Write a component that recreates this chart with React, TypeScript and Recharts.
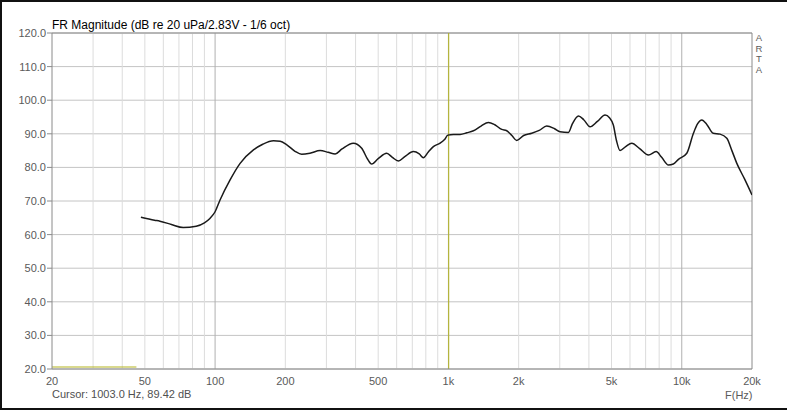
import {
  CartesianGrid,
  Line,
  LineChart,
  ReferenceLine,
  XAxis,
  YAxis,
} from 'recharts'

// frequency response, 1/6 oct smoothed
const freqHz = [
  48.1, 55, 58, 65, 73, 83, 90, 95, 100, 105, 115.8, 128, 146, 160, 178, 190,
  203, 220, 235, 255, 282, 305, 327, 350, 391, 425, 450, 469, 500, 544, 575,
  610, 650, 708, 750, 781, 820, 862, 921, 960, 995, 1050, 1122, 1200, 1280,
  1380, 1483, 1580, 1692, 1778, 1870, 1963, 2100, 2276, 2450, 2637, 2850,
  3010, 3268, 3400, 3607, 3800, 4046, 4350, 4692, 4900, 5091, 5250, 5441,
  5750, 6107, 6600, 7200, 7763, 8200, 8770, 9200, 9680, 10510, 11220, 11700,
  12190, 12800, 13640, 14590, 15600, 16400, 17220, 18600, 20000,
]
const magDb = [
  65.2, 64.3, 64.0, 63.0, 62.1, 62.5, 63.5, 64.8, 66.8, 70.3, 76.2, 81.2,
  85.2, 86.9, 87.95, 87.8, 86.7, 84.8, 83.9, 84.2, 85.0, 84.5, 84.0, 85.5,
  87.2, 85.7, 82.5, 81.0, 82.6, 84.2, 83.0, 81.9, 83.2, 84.7, 84.0, 82.9,
  84.6, 86.2, 87.2, 88.2, 89.6, 89.8, 89.8, 90.3, 90.9, 92.3, 93.4, 92.7,
  91.3, 90.9, 89.5, 88.0, 89.5, 90.15, 91.0, 92.3, 91.5, 90.6, 90.4, 93.0,
  95.3, 94.2, 92.1, 93.7, 95.6, 94.8, 92.6, 88.0, 85.0, 86.2, 87.2, 85.6,
  83.7, 84.7, 83.0, 80.7, 81.0, 82.4, 84.2, 90.15, 93.0, 94.1, 92.8, 90.15,
  89.9, 88.7, 85.0, 81.2, 76.5, 71.8,
]

// yellow marker segment at the bottom-left
const markerHz = [20, 46]
const markerDb = [20.6, 20.6]

const cursorHz = 1003
const xTicks = [20, 50, 100, 200, 500, 1000, 2000, 5000, 10000, 20000]
const yTicks = [20, 30, 40, 50, 60, 70, 80, 90, 100, 110, 120]
const gridHz = [
  30, 40, 50, 60, 70, 80, 90, 100, 200, 300, 400, 500, 600, 700, 800, 900,
  1000, 2000, 3000, 4000, 5000, 6000, 7000, 8000, 9000, 10000,
]
const decadeHz = [100, 1000, 10000]
const artaLetters = ['A', 'R', 'T', 'A']

const curve = freqHz.map((f, i) => ({ f, db: magDb[i] }))
const marker = markerHz.map((f, i) => ({ f, db: markerDb[i] }))

const font = 'Arial, "Liberation Sans", sans-serif'

const fmtHz = (v: number) => (v >= 1000 ? `${v / 1000}k` : `${v}`)

const App = () => {
  return (
    <div
      style={{
        position: 'absolute',
        left: 0,
        top: 0,
        width: 787,
        height: 410,
        background: '#fff',
        fontFamily: font,
      }}
    >
      <div
        style={{
          position: 'absolute',
          left: 0,
          top: 0,
          width: 787,
          height: 410,
          borderTop: '2px solid #111',
          borderLeft: '2px solid #111',
          borderBottom: '2px solid #111',
          boxSizing: 'border-box',
        }}
      />
      <LineChart
        width={787}
        height={410}
        data={curve}
        margin={{ top: 33, right: 35, bottom: 21, left: 0 }}
      >
        <CartesianGrid vertical={false} stroke="#c4c4c4" />
        {gridHz.map((f) => (
          <ReferenceLine
            key={f}
            x={f}
            stroke={decadeHz.includes(f) ? '#b0b0b0' : '#dcdcdc'}
            strokeWidth={1}
          />
        ))}
        <ReferenceLine y={120} stroke="#8a8a8a" />
        <ReferenceLine x={20000} stroke="#8a8a8a" />
        <ReferenceLine x={cursorHz} stroke="#b4b41e" strokeWidth={1} />
        <XAxis
          dataKey="f"
          type="number"
          scale="log"
          domain={[20, 20000]}
          allowDataOverflow
          ticks={xTicks}
          tickFormatter={fmtHz}
          tickLine={false}
          axisLine={{ stroke: '#8a8a8a' }}
          tick={{ fontSize: 11, fill: '#5a5a5a', fontFamily: font }}
          height={20}
        />
        <YAxis
          type="number"
          domain={[20, 120]}
          ticks={yTicks}
          tickFormatter={(v: number) => v.toFixed(1)}
          tickSize={5}
          tickMargin={1}
          tickLine={{ stroke: '#8a8a8a' }}
          axisLine={{ stroke: '#8a8a8a' }}
          tick={{ fontSize: 11, fill: '#5a5a5a', fontFamily: font }}
          width={52}
          interval={0}
        />
        <Line
          data={marker}
          dataKey="db"
          type="linear"
          stroke="#b4b41e"
          strokeWidth={1.2}
          dot={false}
          isAnimationActive={false}
        />
        <Line
          dataKey="db"
          type="monotone"
          stroke="#1a1a1a"
          strokeWidth={1.5}
          dot={false}
          isAnimationActive={false}
        />
      </LineChart>
      <div
        style={{
          position: 'absolute',
          left: 52,
          top: 18,
          fontSize: 12,
          color: '#000',
          whiteSpace: 'nowrap',
        }}
      >
        FR Magnitude (dB re 20 uPa/2.83V - 1/6 oct)
      </div>
      {artaLetters.map((ch, i) => (
        <div
          key={i}
          style={{
            position: 'absolute',
            left: 754,
            top: 33 + i * 10.5,
            width: 10,
            fontSize: 9.5,
            lineHeight: '10px',
            height: 10,
            color: '#5a5a5a',
            textAlign: 'center',
          }}
        >
          {ch}
        </div>
      ))}
      <div
        style={{
          position: 'absolute',
          left: 52,
          top: 388,
          fontSize: 11,
          color: '#505050',
          whiteSpace: 'nowrap',
        }}
      >
        Cursor: 1003.0 Hz, 89.42 dB
      </div>
      <div
        style={{
          position: 'absolute',
          left: 725,
          top: 389,
          fontSize: 11,
          color: '#5a5a5a',
          whiteSpace: 'nowrap',
        }}
      >
        F(Hz)
      </div>
    </div>
  )
}

export default App
